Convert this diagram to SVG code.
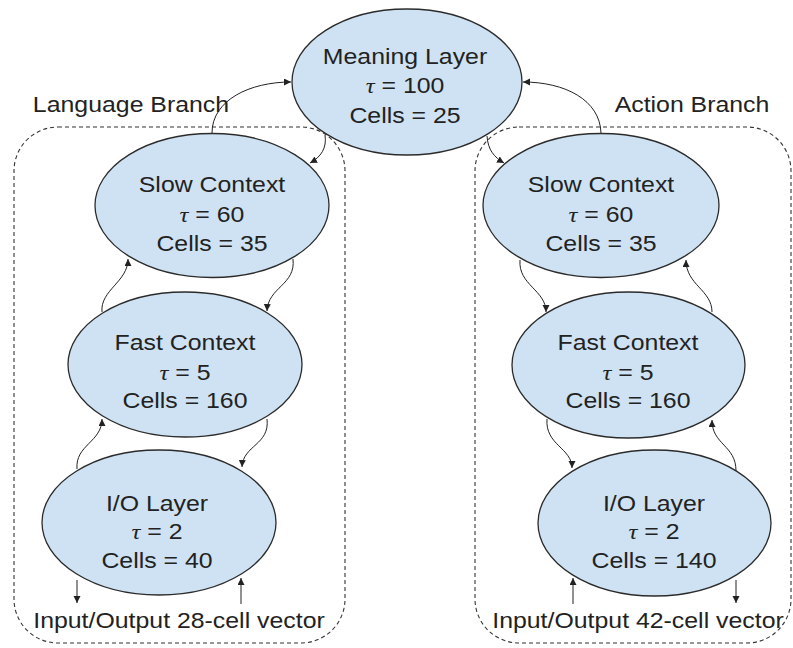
<svg xmlns="http://www.w3.org/2000/svg" width="793" height="648" viewBox="0 0 793 648">
<defs>
<marker id="ah" markerWidth="8" markerHeight="8" refX="7" refY="3.5" orient="auto" markerUnits="userSpaceOnUse">
<path d="M0,0 L7,3.5 L0,7 z" fill="#222"/>
</marker>
<style>
.node{fill:#cfe2f3;stroke:#2b2b2b;stroke-width:1.3}
.box{fill:none;stroke:#333;stroke-width:1.1;stroke-dasharray:4 3}
.t{font-family:"Liberation Sans",Arial,sans-serif;font-size:22px;fill:#222;text-anchor:middle}
.tau{font-family:"Liberation Serif","Times New Roman",serif;font-style:italic}
.c{fill:none;stroke:#222;stroke-width:1;marker-end:url(#ah)}
</style>
</defs>
<rect width="793" height="648" fill="#fff"/>
<g id="language-branch">
<rect class="box" x="14" y="127" width="331" height="516" rx="44" ry="44"/>
<g transform="translate(131 0) scale(1.13 1)"><text class="t" x="0" y="112">Language Branch</text></g>
</g>
<g id="action-branch">
<rect class="box" x="475" y="127" width="316" height="516" rx="44" ry="44"/>
<g transform="translate(692 0) scale(1.13 1)"><text class="t" x="0" y="112">Action Branch</text></g>
</g>
<g id="meaning-layer">
<ellipse class="node" cx="407" cy="82" rx="115" ry="73"/>
<g transform="translate(405 0) scale(1.13 1)">
<text class="t" x="0" y="64">Meaning Layer</text>
<text class="t" x="0" y="93"><tspan class="tau">τ</tspan> = 100</text>
<text class="t" x="0" y="123">Cells = 25</text>
</g>
</g>
<g id="lang-slow">
<ellipse class="node" cx="212" cy="205.5" rx="117" ry="72"/>
<g transform="translate(212 0) scale(1.13 1)">
<text class="t" x="0" y="192">Slow Context</text>
<text class="t" x="0" y="222"><tspan class="tau">τ</tspan> = 60</text>
<text class="t" x="0" y="251">Cells = 35</text>
</g>
</g>
<g id="lang-fast">
<ellipse class="node" cx="185" cy="364.5" rx="117" ry="72.5"/>
<g transform="translate(185 0) scale(1.13 1)">
<text class="t" x="0" y="350">Fast Context</text>
<text class="t" x="0" y="380"><tspan class="tau">τ</tspan> = 5</text>
<text class="t" x="0" y="408">Cells = 160</text>
</g>
</g>
<g id="lang-io">
<ellipse class="node" cx="159" cy="522.5" rx="117" ry="72.5"/>
<g transform="translate(157 0) scale(1.13 1)">
<text class="t" x="0" y="511">I/O Layer</text>
<text class="t" x="0" y="539"><tspan class="tau">τ</tspan> = 2</text>
<text class="t" x="0" y="568">Cells = 40</text>
</g>
</g>
<g id="act-slow">
<ellipse class="node" cx="601" cy="205.5" rx="118" ry="72"/>
<g transform="translate(601 0) scale(1.13 1)">
<text class="t" x="0" y="192">Slow Context</text>
<text class="t" x="0" y="222"><tspan class="tau">τ</tspan> = 60</text>
<text class="t" x="0" y="251">Cells = 35</text>
</g>
</g>
<g id="act-fast">
<ellipse class="node" cx="628.5" cy="365" rx="116.5" ry="73"/>
<g transform="translate(628 0) scale(1.13 1)">
<text class="t" x="0" y="350">Fast Context</text>
<text class="t" x="0" y="380"><tspan class="tau">τ</tspan> = 5</text>
<text class="t" x="0" y="408">Cells = 160</text>
</g>
</g>
<g id="act-io">
<ellipse class="node" cx="654.5" cy="523" rx="116.5" ry="73"/>
<g transform="translate(654 0) scale(1.13 1)">
<text class="t" x="0" y="511">I/O Layer</text>
<text class="t" x="0" y="539"><tspan class="tau">τ</tspan> = 2</text>
<text class="t" x="0" y="568">Cells = 140</text>
</g>
</g>
<g id="io-labels">
<g transform="translate(179 0) scale(1.13 1)"><text class="t" x="0" y="628">Input/Output 28-cell vector</text></g>
<g transform="translate(638 0) scale(1.13 1)"><text class="t" x="0" y="628">Input/Output 42-cell vector</text></g>
</g>
<g id="connectors">
<path class="c" d="M212,133 C212,100 250,82 291,82"/>
<path class="c" d="M325,135 C327,148 321,157 310,163"/>
<path class="c" d="M601,133 C600,100 565,82 523,82"/>
<path class="c" d="M487,136 C488,150 494,157 504,163"/>
<path class="c" d="M102,312 C100,290 128,282 128,259"/>
<path class="c" d="M293,259 C296,285 268,287 267,311"/>
<path class="c" d="M77,469 C75,445 102,442 102,419"/>
<path class="c" d="M267,419 C270,445 243,445 242,467"/>
<path class="c" d="M520,260 C518,285 546,290 546,312"/>
<path class="c" d="M712,312 C712,290 686,285 686,260"/>
<path class="c" d="M547,419 C545,445 572,448 572,468"/>
<path class="c" d="M736,471 C736,445 712,445 712,420"/>
<path class="c" d="M77,580 L77,603"/>
<path class="c" d="M241,604 L241,578"/>
<path class="c" d="M573,604 L573,578"/>
<path class="c" d="M736,580 L736,603"/>
</g>
</svg>
